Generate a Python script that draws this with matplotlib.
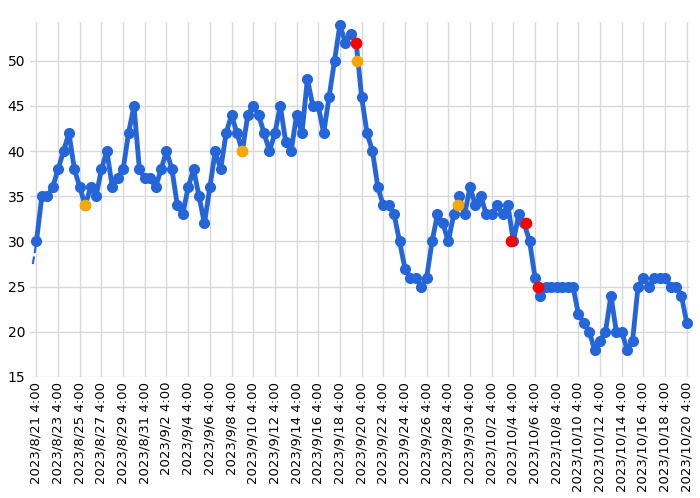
import matplotlib
matplotlib.use("Agg")
import matplotlib.pyplot as plt
import datetime as dt

start = dt.datetime(2023, 8, 21, 4)
values = [30, 35, 35, 36, 38, 40, 42, 38, 36, 34, 36, 35, 38, 40, 36, 37, 38, 42, 45, 38,
          37, 37, 36, 38, 40, 38, 34, 33, 36, 38, 35, 32, 36, 40, 38, 42, 44, 42, 40, 44,
          45, 44, 42, 40, 42, 45, 41, 40, 44, 42, 48, 45, 45, 42, 46, 50, 54, 52, 53, 52,
          46, 42, 40, 36, 34, 34, 33, 30, 27, 26, 26, 25, 26, 30, 33, 32, 30, 33, 35, 33,
          36, 34, 35, 33, 33, 34, 33, 34, 30, 33, 32, 30, 26, 24, 25, 25, 25, 25, 25, 25,
          22, 21, 20, 18, 19, 20, 24, 20, 20, 18, 19, 25, 26, 25, 26, 26, 26, 25, 25, 24, 21]
times = [start + dt.timedelta(hours=12 * i) for i in range(len(values))]

orange_days = [4.5, 19, 29.6, 38.9]
orange_vals = [34, 40, 50, 34]
red_days = [29.5, 43.8, 45.2, 46.3]
red_vals = [52, 30, 32, 25]

fig = plt.figure(figsize=(7, 4.98), dpi=100)
ax = fig.add_axes([0.043, 0.243, 0.942, 0.713])
blue = "#2466d9"
ax.plot([start - dt.timedelta(hours=8), start], [27.5, 30], color=blue, lw=1.5, ls="--")
ax.plot(times, values, color=blue, lw=3.5, marker="o", ms=7, zorder=3, clip_on=False)
ax.scatter([start + dt.timedelta(days=d) for d in orange_days], orange_vals, s=55, color="#f5a800", zorder=4)
ax.scatter([start + dt.timedelta(days=d) for d in red_days], red_vals, s=55, color="#ff0000", zorder=4)

ticks = [start + dt.timedelta(days=2 * i) for i in range(31)]
ax.set_xticks(ticks)
ax.set_xticklabels([f"{t.year}/{t.month}/{t.day} 4:00" for t in ticks], rotation=90, fontsize=9.5)
ax.set_xlim(start - dt.timedelta(hours=14), start + dt.timedelta(days=60, hours=6))
ax.set_ylim(15, 54.3)
ax.set_yticks([15, 20, 25, 30, 35, 40, 45, 50])
ax.tick_params(axis="y", labelsize=10, length=0)
ax.tick_params(axis="x", length=0)
ax.grid(True, color="#d9d9d9", lw=1)
ax.set_axisbelow(True)
for s in ax.spines.values():
    s.set_visible(False)
fig.savefig("out.png", dpi=100)
